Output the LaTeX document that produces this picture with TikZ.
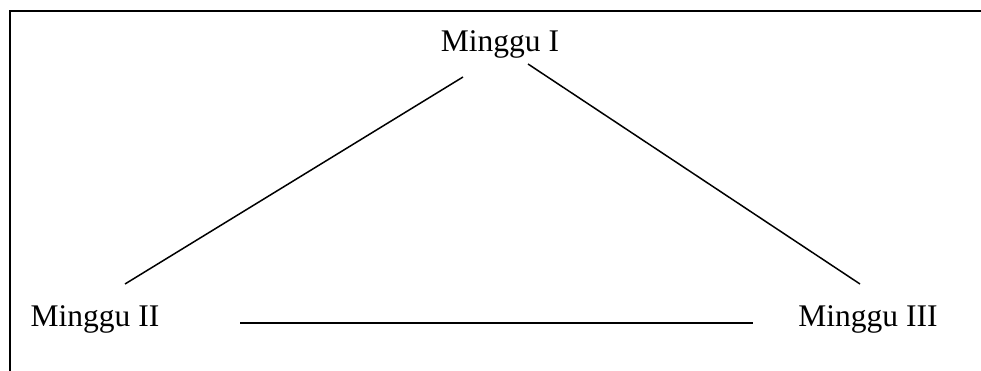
\documentclass[tikz,border=0pt]{standalone}
\usepackage{fontspec}
\setmainfont{Liberation Serif}
\begin{document}
\begin{tikzpicture}[x=1pt,y=-1pt,
  week/.style={inner sep=0pt,anchor=base,font=\fontsize{31.5}{36}\selectfont},
  link/.style={line width=1.5pt},
  frame/.style={line width=2pt}]
\useasboundingbox (0,0) rectangle (981,371);
% open frame: top and left edges only
\draw[frame] (10,371) -- (10,11) -- (981,11);
% week labels
\node[week] (w1) at (500,52) {Minggu I};
\node[week] (w2) at (95,326) {Minggu II};
\node[week] (w3) at (868,326) {Minggu III};
% line end points
\coordinate (a1) at (463,77);
\coordinate (a2) at (125,284);
\coordinate (b1) at (528,64);
\coordinate (b2) at (860,284);
\coordinate (c1) at (240,323);
\coordinate (c2) at (753,323);
\draw[link] (a1) -- (a2);
\draw[link] (b1) -- (b2);
\draw[link] (c1) -- (c2);
\end{tikzpicture}
\end{document}
